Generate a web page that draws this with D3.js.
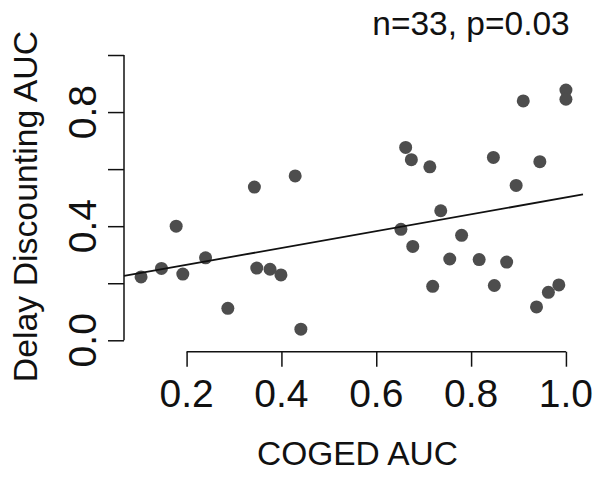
<!DOCTYPE html>
<html>
<head>
<meta charset="utf-8">
<script src="https://cdn.jsdelivr.net/npm/d3@7"></script>
<style>
  body { margin: 0; background: #fff; }
  svg text { font-family: "Liberation Sans", Arial, sans-serif; fill: #111; }
</style>
</head>
<body>
<div id="chart"></div>
<script>
// data
let cogedAuc = [0.104, 0.147, 0.178, 0.192, 0.240, 0.287, 0.343, 0.429, 0.348, 0.376, 0.399,
    0.441, 0.662, 0.674, 0.713, 0.736, 0.652, 0.677, 0.780, 0.755, 0.817, 0.719,
    0.847, 0.910, 1.000, 1.000, 0.945, 0.895, 0.875, 0.849, 0.985, 0.963, 0.938];
let delayAuc = [0.222, 0.252, 0.400, 0.232, 0.289, 0.112, 0.537, 0.576, 0.253, 0.249, 0.229,
    0.039, 0.676, 0.633, 0.608, 0.454, 0.389, 0.329, 0.368, 0.285, 0.283, 0.189,
    0.641, 0.839, 0.877, 0.845, 0.626, 0.543, 0.274, 0.192, 0.194, 0.168, 0.117];
let xTicks = [0.2, 0.4, 0.6, 0.8, 1.0];
let yTicks = [0.0, 0.2, 0.4, 0.6, 0.8, 1.0];
let yTickLabels = [0.0, 0.4, 0.8];
let fitIntercept = 0.2056;
let fitSlope = 0.295;
let statsText = "n=33, p=0.03";

let width = 604, height = 477;

let svg = d3.select("#chart").append("svg")
    .attr("width", width)
    .attr("height", height);

// plot region (R style, 4% padding)
let x = d3.scaleLinear().domain([0.068, 1.036]).range([124, 583]);
let y = d3.scaleLinear().domain([-0.04, 1.04]).range([351.7, 43.6]);

// y axis
let yAxis = d3.axisLeft(y)
    .tickValues(yTicks)
    .tickSize(16)
    .tickFormat("");
svg.append("g")
    .attr("transform", "translate(124,0)")
    .call(yAxis)
    .call(g => g.select(".domain").attr("d", "M0," + y(0) + "V" + y(1)))
    .selectAll("line, path").attr("stroke", "#111").attr("stroke-width", 1.5);

svg.selectAll(".ylab")
    .data(yTickLabels)
    .enter().append("text")
    .attr("class", "ylab")
    .attr("transform", d => "translate(96," + y(d) + ") rotate(-90)")
    .attr("text-anchor", "middle")
    .style("font-size", "39px")
    .text(d => d.toFixed(1));

// x axis
let xAxis = d3.axisBottom(x)
    .tickValues(xTicks)
    .tickSize(15)
    .tickFormat("");
svg.append("g")
    .attr("transform", "translate(0,351.7)")
    .call(xAxis)
    .call(g => g.select(".domain").attr("d", "M" + x(0.2) + ",0H" + x(1)))
    .selectAll("line, path").attr("stroke", "#111").attr("stroke-width", 1.5);

svg.selectAll(".xlab")
    .data(xTicks)
    .enter().append("text")
    .attr("class", "xlab")
    .attr("x", d => x(d))
    .attr("y", 407)
    .attr("text-anchor", "middle")
    .style("font-size", "39px")
    .text(d => d.toFixed(1));

// axis titles
svg.append("text")
    .attr("x", 357.5)
    .attr("y", 465)
    .attr("text-anchor", "middle")
    .style("font-size", "33.5px")
    .text("COGED AUC");

svg.append("text")
    .attr("transform", "translate(37,206.5) rotate(-90)")
    .attr("text-anchor", "middle")
    .style("font-size", "33.8px")
    .text("Delay Discounting AUC");

svg.append("text")
    .attr("x", 471)
    .attr("y", 35)
    .attr("text-anchor", "middle")
    .style("font-size", "33.5px")
    .text(statsText);

// points
let points = cogedAuc.map((d, i) => ({ x: d, y: delayAuc[i] }));
svg.selectAll(".dot")
    .data(points)
    .enter().append("circle")
    .attr("class", "dot")
    .attr("cx", d => x(d.x))
    .attr("cy", d => y(d.y))
    .attr("r", 6.5)
    .style("fill", "#4d4d4d");

// regression line across the plot region
let xr = x.domain();
svg.append("line")
    .attr("x1", x(xr[0]))
    .attr("y1", y(fitIntercept + fitSlope * xr[0]))
    .attr("x2", x(xr[1]))
    .attr("y2", y(fitIntercept + fitSlope * xr[1]))
    .attr("stroke", "#111")
    .attr("stroke-width", 1.8);
</script>
</body>
</html>
